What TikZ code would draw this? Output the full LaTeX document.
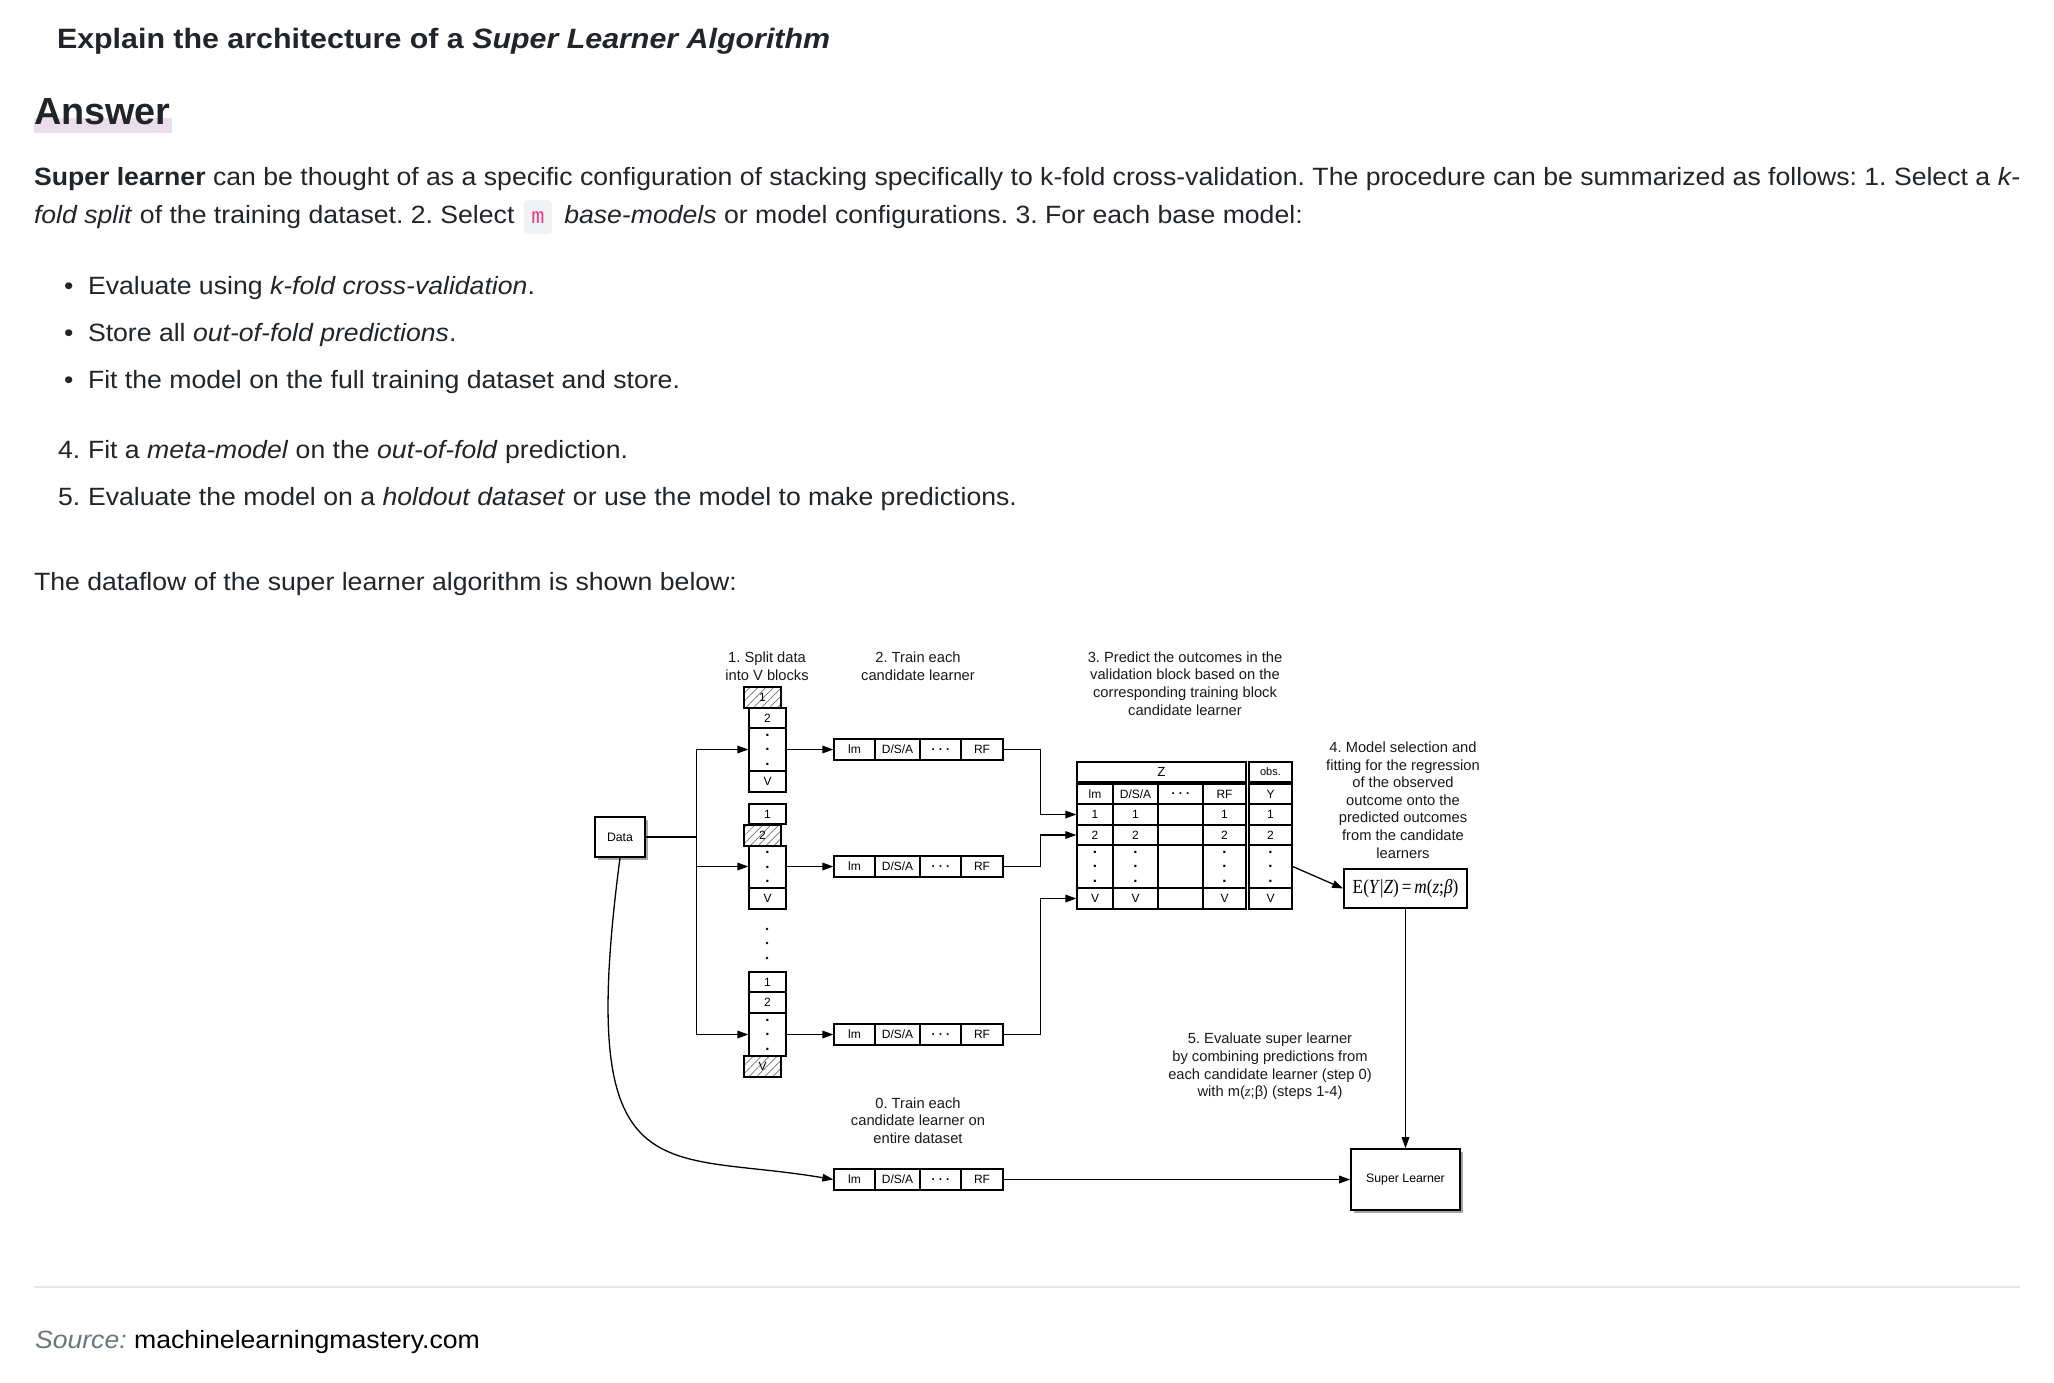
\documentclass[tikz,border=0pt]{standalone}
\usepackage{graphicx}
\usepackage{fontspec}
\setmainfont{Liberation Sans}
\newfontfamily\bodyfont{Liberation Sans}[FakeStretch=1.065]
\newfontfamily\titlefont{Liberation Sans}[FakeStretch=1.085]
\newfontfamily\seriffont{Liberation Serif}
\newfontfamily\monofont{Liberation Mono}
\frenchspacing
\usetikzlibrary{arrows.meta,patterns.meta,shadows}
\definecolor{txt}{HTML}{212529}
\definecolor{hl}{HTML}{EBDDEB}
\definecolor{codepink}{HTML}{E83E8C}
\definecolor{codebg}{HTML}{F1F2F3}
\definecolor{srcgray}{HTML}{6C757D}
\definecolor{rulegray}{HTML}{E4E4E4}
\newcommand\mklearnerrow[2]{%
  \node[cell, minimum width=20.5pt] (#1a) at (854.5,#2) {lm};
  \node[cell, minimum width=22.5pt] (#1b) at (897.5,#2) {D/S/A};
  \node[cell, minimum width=20.5pt] (#1c) at (940.5,#2) {\bfseries .\,\,.\,\,.};
  \node[cell, minimum width=21pt] (#1d) at (982,#2) {RF};
}
\newcommand\mktablerow[8]{%
  \node[cell, minimum width=18pt, minimum height=#3] (#1a) at (1095,#2) {#4};
  \node[cell, minimum width=22.5pt, minimum height=#3] (#1b) at (1135.5,#2) {#5};
  \node[cell, minimum width=22.5pt, minimum height=#3] (#1c) at (1180.5,#2) {#6};
  \node[cell, minimum width=21.5pt, minimum height=#3] (#1d) at (1224.5,#2) {#7};
  \node[cell, minimum width=21.5pt, minimum height=#3] (#1y) at (1270.5,#2) {#8};
}
\newcommand\bdot{{\fontsize{7.5pt}{7.25pt}\selectfont\bfseries .}}
\newcommand\vdts{\bdot\\\bdot\\\bdot}
\begin{document}
\begin{tikzpicture}[x=0.5pt,y=-0.5pt,
  body/.style={anchor=base west, inner sep=0pt, outer sep=0pt, text=txt, font=\bodyfont\fontsize{12.5pt}{15pt}\selectfont},
  lab/.style={align=center, inner sep=0pt, text=black!90, font=\fontsize{7.35pt}{8.8pt}\selectfont},
  cell/.style={draw, line width=0.65pt, inner sep=0pt, minimum height=10.5pt, align=center, font=\fontsize{6pt}{7.25pt}\selectfont},
  hatch/.style={cell, pattern={Lines[angle=45,distance=2.8pt,line width=0.35pt]}, pattern color=black!55},
  arr/.style={line width=0.65pt, -{Triangle[length=5.5pt,width=3.8pt]}},
  conn/.style={line width=0.65pt},
  shbox/.style={draw, line width=0.8pt, fill=white, inner sep=0pt, drop shadow={shadow xshift=1.4pt, shadow yshift=-1.4pt, fill=black, opacity=0.35}, font=\fontsize{6.15pt}{7pt}\selectfont},
  code/.style={anchor=base west, fill=codebg, rounded corners=2pt, text=codepink, inner xsep=0pt, inner ysep=5.5pt, minimum width=14pt, text height=5.9pt, text depth=0pt, font=\monofont\fontsize{11pt}{13pt}\selectfont}
]
\useasboundingbox (0,0) rectangle (2054,1382);
\fill[white] (0,0) rectangle (2054,1382);

% ---------------- text part ----------------
\node[body, font=\titlefont\fontsize{14pt}{17pt}\selectfont\bfseries] (title) at (57,48) {Explain the architecture of a \textit{Super Learner Algorithm}};
\fill[hl] (34,118) rectangle (172,133);
\node[body, font=\fontsize{18.9pt}{22pt}\selectfont\bfseries] (answer) at (34,124) {Answer};
\node[body] (p1) at (34,185) {\textbf{Super learner} can be thought of as a specific configuration of stacking specifically to k-fold cross-validation. The procedure can be summarized as follows: 1. Select a \textit{k-}};
\node[body] (p2a) at (34,223) {\textit{fold split} of the training dataset. 2. Select};
\node[code] (codem) at ([xshift=4.5pt]p2a.base east) {m};
\node[body] (p2b) at ([xshift=6pt]codem.base east) {\textit{base-models} or model configurations. 3. For each base model:};
\node[body] (b1) at (64,294) {•};
\node[body] (b1t) at (88,294) {Evaluate using \textit{k-fold cross-validation}.};
\node[body] (b2) at (64,341) {•};
\node[body] (b2t) at (88,341) {Store all \textit{out-of-fold predictions}.};
\node[body] (b3) at (64,388) {•};
\node[body] (b3t) at (88,388) {Fit the model on the full training dataset and store.};
\node[body] (n4) at (58,458) {4.};
\node[body] (n4t) at (88,458) {Fit a \textit{meta-model} on the \textit{out-of-fold} prediction.};
\node[body] (n5) at (58,505) {5.};
\node[body] (n5t) at (88,505) {Evaluate the model on a \textit{holdout dataset} or use the model to make predictions.};
\node[body] (flow) at (34,590) {The dataflow of the super learner algorithm is shown below:};
\draw[rulegray, line width=1pt] (34,1287) -- (2020,1287);
\node[body] (src) at (35,1348) {\textcolor{srcgray}{\itshape Source:} \textcolor{black}{machinelearningmastery.com}};

% ---------------- diagram labels ----------------
\node[lab] (l1) at (767,666) {1. Split data\\into V blocks};
\node[lab] (l2) at (918,666) {2. Train each\\candidate learner};
\node[lab] (l3) at (1185,683.5) {3. Predict the outcomes in the\\validation block based on the\\corresponding training block\\candidate learner};
\node[lab] (l4) at (1403,800) {4. Model selection and\\fitting for the regression\\of the observed\\outcome onto the\\predicted outcomes\\from the candidate\\learners};
\node[lab] (l0) at (918,1120.5) {0. Train each\\candidate learner on\\entire dataset};
\node[lab] (l5) at (1270,1066.5) {5. Evaluate super learner\\by combining predictions from\\each candidate learner (step 0)\\with m({\seriffont\itshape z};β) (steps 1-4)};

% ---------------- data box ----------------
\node[shbox, minimum width=25pt, minimum height=20pt] (data) at (620,837) {Data};
\coordinate (j) at (696.5,837);

% ---------------- stacks ----------------
\node[hatch, minimum width=18.5pt] (h1) at (762.5,697.5) {1};
\node[cell, minimum width=18.5pt, minimum height=10pt] (s1a) at (767.5,718) {2};
\node[cell, minimum width=18.5pt, minimum height=21.5pt] (s1d) at (767.5,749.5) {\vdts};
\node[cell, minimum width=18.5pt] (s1v) at (767.5,781.5) {V};

\node[cell, minimum width=18.5pt, minimum height=10pt] (s2a) at (767.5,814) {1};
\node[hatch, minimum width=18.5pt] (h2) at (762.5,835.5) {2};
\node[cell, minimum width=18.5pt, minimum height=21pt] (s2d) at (767.5,867) {\vdts};
\node[cell, minimum width=18.5pt] (s2v) at (767.5,898.5) {V};

\fill (767,929) circle (1.3);
\fill (767,943) circle (1.3);
\fill (767,958) circle (1.3);

\node[cell, minimum width=18.5pt, minimum height=10pt] (s3a) at (767.5,982) {1};
\node[cell, minimum width=18.5pt] (s3b) at (767.5,1002.5) {2};
\node[cell, minimum width=18.5pt, minimum height=21.5pt] (s3d) at (767.5,1034.5) {\vdts};
\node[hatch, minimum width=18.5pt] (h3) at (762.5,1066.5) {V};

% ---------------- learner rows ----------------
\mklearnerrow{ra}{749.5}
\mklearnerrow{rb}{866.5}
\mklearnerrow{rc}{1034.5}
\mklearnerrow{rd}{1179.5}

% ---------------- table ----------------
\node[cell, minimum width=84.5pt, minimum height=10pt, font=\fontsize{6.6pt}{7pt}\selectfont] (zh) at (1161.5,772) {Z};
\node[cell, minimum width=21.5pt, minimum height=10pt, font=\fontsize{5.5pt}{6pt}\selectfont] (obs) at (1270.5,772) {obs.};
\mktablerow{th}{794}{10pt}{lm}{D/S/A}{\bfseries .\,\,.\,\,.}{RF}{Y}
\mktablerow{ta}{814.5}{10.5pt}{1}{1}{}{1}{1}
\mktablerow{tb}{835}{10pt}{2}{2}{}{2}{2}
\mktablerow{td}{866.5}{21.5pt}{\vdts}{\vdts}{}{\vdts}{\vdts}
\mktablerow{tv}{898.5}{10.5pt}{V}{V}{}{V}{V}

% ---------------- model boxes ----------------
\node[draw, line width=0.8pt, minimum width=61.5pt, minimum height=19.5pt, inner sep=0pt] (ebox) at (1405.5,888.5) {\scalebox{0.86}[1]{\seriffont\fontsize{10pt}{12pt}\selectfont E(\textit{Y}|\textit{Z})\,=\,\textit{m}(\textit{z};\textit{β})}};
\node[shbox, minimum width=54.5pt, minimum height=30.5pt] (sl) at (1405.5,1179.5) {Super Learner};

% ---------------- connectors ----------------
\draw[conn] (data.east) -- (j);
\draw[arr] (j) |- (s1d.west |- raa.center);
\draw[arr] (j) |- (s2d.west |- rba.center);
\draw[arr] (j) |- (s3d.west |- rca.center);
\draw[arr] (s1d.east |- raa.center) -- (raa.west);
\draw[arr] (s2d.east |- rba.center) -- (rba.west);
\draw[arr] (s3d.east |- rca.center) -- (rca.west);
\draw[arr] (rad.east) -- ++(37,0) |- (taa.west);
\draw[arr] (rbd.east) -- ++(37,0) |- (tba.west);
\draw[arr] (rcd.east) -- ++(37,0) |- (tva.west);
\draw[arr] (tdy.east) -- (ebox.west);
\draw[arr] (ebox.south) -- (sl.north);
\draw[arr] (rdd.east) -- (sl.west);
\draw[arr] (data.south) .. controls (575,1200) and (660,1150) .. (rda.west);
\end{tikzpicture}
\end{document}
